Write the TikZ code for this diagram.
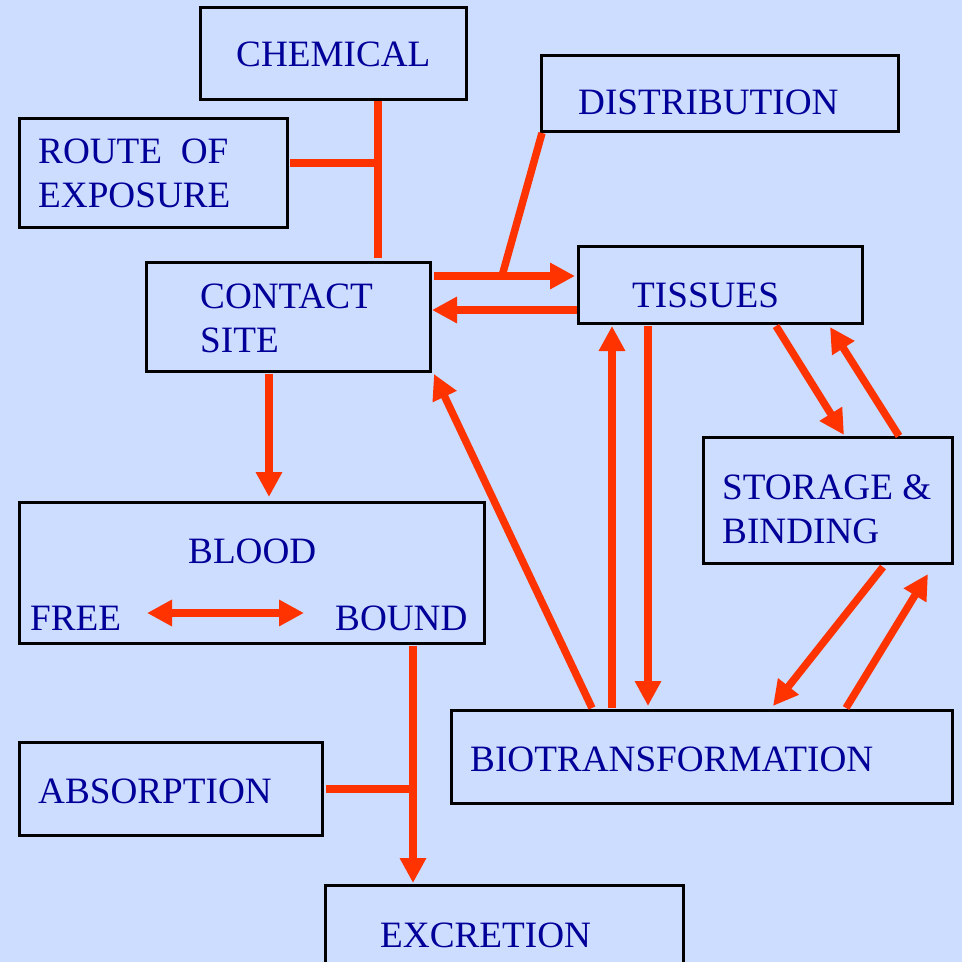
\documentclass[tikz,border=0pt]{standalone}
\usepackage{fontspec}
\setmainfont{Liberation Serif}
\usetikzlibrary{arrows.meta,calc}
\definecolor{bg}{HTML}{CCDDFF}
\definecolor{arr}{HTML}{FF3300}
\definecolor{txt}{HTML}{000099}
\begin{document}
\begin{tikzpicture}[x=1pt,y=-1pt,
  box/.style={draw=black,line width=3pt,rectangle,inner sep=0pt,outer sep=0pt,anchor=north west},
  lbl/.style={text=txt,inner sep=0pt,anchor=west,align=left,font=\fontsize{37.2}{44}\selectfont},
  conn/.style={draw=arr,line width=7.5pt},
  arrow/.style={conn,-{Triangle[length=25pt,width=25pt]}},
  darrow/.style={conn,{Triangle[length=25pt,width=25pt]}-{Triangle[length=25pt,width=25pt]}}]
\fill[bg] (0,0) rectangle (962,962);
\useasboundingbox (0,0) rectangle (962,962);
% boxes
\node[box,minimum width=266pt,minimum height=92pt] (chem) at (200,7) {};
\node[box,minimum width=357pt,minimum height=76pt] (dist) at (541,55) {};
\node[box,minimum width=268pt,minimum height=109pt] (route) at (19,118) {};
\node[box,minimum width=284pt,minimum height=109pt] (contact) at (146,262) {};
\node[box,minimum width=284pt,minimum height=77pt] (tissues) at (578,246) {};
\node[box,minimum width=249pt,minimum height=126pt] (storage) at (703,437) {};
\node[box,minimum width=465pt,minimum height=141pt] (blood) at (19,502) {};
\node[box,minimum width=303pt,minimum height=93pt] (absorp) at (19,742) {};
\node[box,minimum width=501pt,minimum height=93pt] (biotr) at (451,710) {};
\node[box,minimum width=358pt,minimum height=95pt] (excr) at (325,885) {};
% texts
\node[lbl] (chemT) at (236,54) {CHEMICAL};
\node[lbl] (distT) at (578,102) {DISTRIBUTION};
\node[lbl] (routeT) at (38,173) {ROUTE\ \ OF\\EXPOSURE};
\node[lbl] (contactT) at (200,318) {CONTACT\\SITE};
\node[lbl] (tissuesT) at (632,295) {TISSUES};
\node[lbl] (storageT) at (722,509) {STORAGE \&\\BINDING};
\node[lbl] (bloodT) at (188,551) {BLOOD};
\node[lbl] (freeT) at (30,618) {FREE};
\node[lbl] (boundT) at (335,618) {BOUND};
\node[lbl] (absorpT) at (38,791) {ABSORPTION};
\node[lbl] (biotrT) at (470,759) {BIOTRANSFORMATION};
\node[lbl] (excrT) at (380,935) {EXCRETION};
% junction points
\coordinate (j1) at (378,163);
\coordinate (j2) at (502,276);
\coordinate (j3) at (413,789);
% connectors
\draw[conn] ($(chem.south west)+(178,2)$) -- ($(contact.north west)+(232,-4)$);
\draw[conn] ($(route.north east)+(3,45)$) -- (j1);
\draw[conn] ($(dist.south west)+(1,2)$) -- (j2);
\draw[arrow] ($(contact.north east)+(4,14)$) -- ($(tissues.north west)+(-3,30)$);
\draw[arrow] ($(tissues.north west)+(-1,64)$) -- ($(contact.north east)+(2,48)$);
\draw[arrow] ($(contact.south west)+(123,3)$) -- ($(blood.north west)+(250,-5)$);
\draw[darrow] ($(blood.north west)+(128,111)$) -- ($(blood.north west)+(285,111)$);
\draw[arrow] ($(blood.south west)+(394,3)$) -- ($(excr.north west)+(88,-2)$);
\draw[conn] ($(absorp.north east)+(4,47)$) -- (j3);
\draw[arrow] ($(biotr.north west)+(141,-2)$) -- ($(contact.south east)+(4,3)$);
\draw[arrow] ($(biotr.north west)+(161,-2)$) -- ($(tissues.south west)+(34,3)$);
\draw[arrow] ($(tissues.south west)+(70,3)$) -- ($(biotr.north west)+(197,-4)$);
\draw[arrow] ($(tissues.south west)+(198,3)$) -- ($(storage.north west)+(141,-2)$);
\draw[arrow] ($(storage.north west)+(196,-1)$) -- ($(tissues.south west)+(252,4)$);
\draw[arrow] ($(storage.south west)+(180,4)$) -- ($(biotr.north west)+(322,-4)$);
\draw[arrow] ($(biotr.north west)+(395,-2)$) -- ($(storage.south west)+(225,11)$);
\end{tikzpicture}
\end{document}
